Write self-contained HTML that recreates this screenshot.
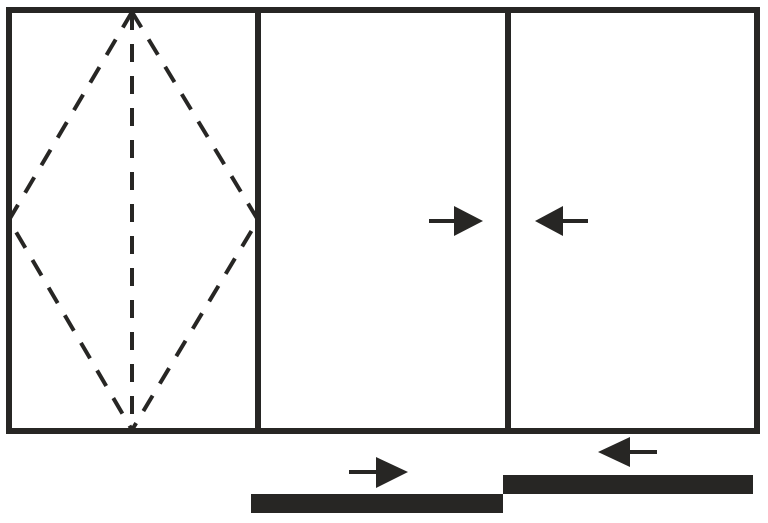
<!DOCTYPE html>
<html><head><style>html,body{margin:0;padding:0;background:#fff}svg{display:block}</style></head>
<body>
<svg width="768" height="523" viewBox="0 0 768 523" xmlns="http://www.w3.org/2000/svg">
<g stroke="#272624" fill="none">
<g stroke-width="4" stroke-dasharray="18 14">
<line x1="132" y1="12" x2="132" y2="430"/>
<polyline points="132,12 9,220 132,430"/>
<polyline points="132,12 258,220 132,430"/>
</g>
<rect x="9" y="10" width="748" height="421" stroke-width="6"/>
<line x1="258" y1="10" x2="258" y2="431" stroke-width="6"/>
<line x1="508" y1="10" x2="508" y2="431" stroke-width="6"/>
<g stroke-width="4">
<line x1="429" y1="221" x2="456" y2="221"/>
<line x1="560" y1="221" x2="588" y2="221"/>
<line x1="349" y1="472" x2="378" y2="472"/>
<line x1="628" y1="452" x2="657" y2="452"/>
</g>
</g>
<g fill="#272624">
<polygon points="454,206 483,221 454,236"/>
<polygon points="563,206 535,221 563,236"/>
<polygon points="376,457 408,472 376,488"/>
<polygon points="630,437 598,452 630,467"/>
<rect x="251" y="494" width="252" height="19"/>
<rect x="503" y="475" width="250" height="19"/>
</g>
</svg>
</body></html>
